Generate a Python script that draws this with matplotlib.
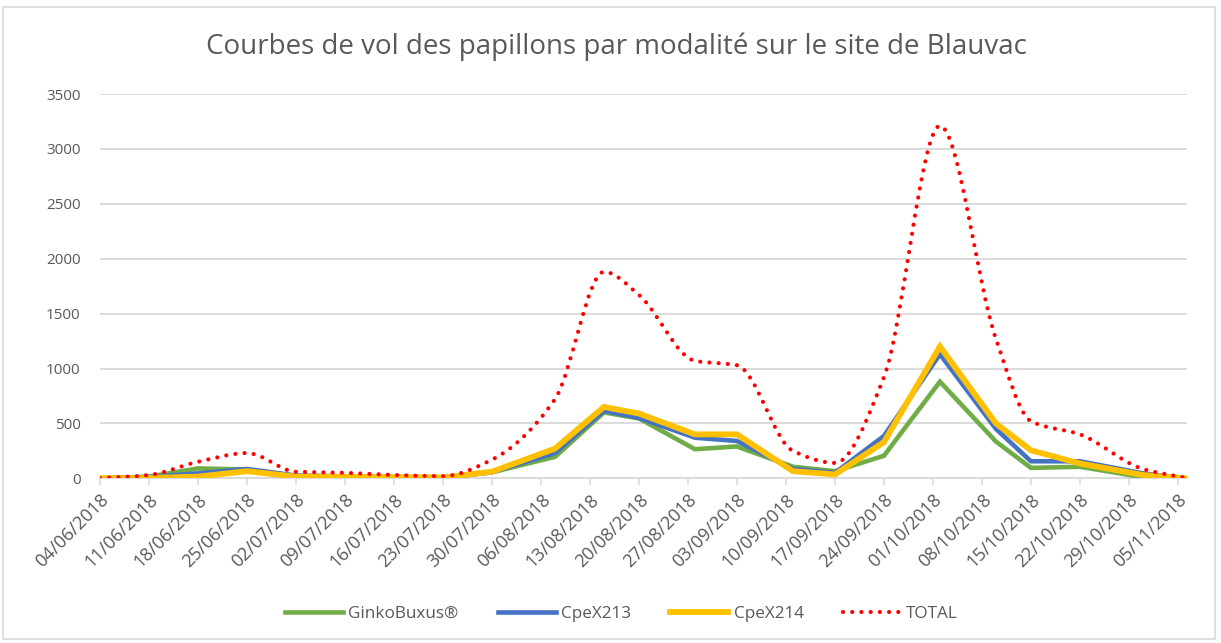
import numpy as np
import pandas as pd
import matplotlib
matplotlib.use("Agg")
import matplotlib.pyplot as plt
from matplotlib.path import Path
from matplotlib.patches import PathPatch, Rectangle
from matplotlib.lines import Line2D

# sampling dates and counts per modality
dates = ["2018-06-04", "2018-06-11", "2018-06-18", "2018-06-25", "2018-07-02",
         "2018-07-09", "2018-07-16", "2018-07-23", "2018-07-30", "2018-08-08",
         "2018-08-15", "2018-08-20", "2018-08-28", "2018-09-03", "2018-09-11",
         "2018-09-17", "2018-09-24", "2018-10-02", "2018-10-10", "2018-10-15",
         "2018-10-22", "2018-10-31", "2018-11-06"]
ginko = [0, 15, 90, 80, 20, 18, 10, 5, 55, 195, 600, 545, 265, 290, 105,
         65, 205, 880, 335, 95, 105, 10, 0]
cpex213 = [0, 12, 45, 85, 25, 18, 10, 8, 55, 230, 615, 550, 370, 340, 85,
           50, 385, 1130, 450, 155, 155, 45, 0]
cpex214 = [0, 3, 15, 65, 15, 14, 10, 7, 60, 270, 650, 590, 400, 400, 65,
           35, 330, 1200, 500, 255, 135, 30, 0]
total = [0, 30, 150, 230, 60, 50, 30, 20, 170, 720, 1880, 1670, 1070, 1030,
         250, 140, 920, 3210, 1270, 520, 400, 85, 5]

tick_start, tick_end = "2018-06-04", "2018-11-05"
y_ticks = [0, 500, 1000, 1500, 2000, 2500, 3000, 3500]
title = "Courbes de vol des papillons par modalité sur le site de Blauvac"

t0 = pd.Timestamp(tick_start)
x = np.array([(pd.Timestamp(d) - t0).days for d in dates], dtype=float)
tick_dates = pd.date_range(tick_start, tick_end, freq="7D")
tick_x = [(d - t0).days for d in tick_dates]
tick_lab = [d.strftime("%d/%m/%Y") for d in tick_dates]

plt.rcParams["font.family"] = ["Open Sans", "DejaVu Sans"]
grey = "#595959"

fig = plt.figure(figsize=(12.21, 6.43), dpi=100)
fig.patches.append(Rectangle((3 / 1221, 4 / 643), 1212 / 1221, 632 / 643,
                             transform=fig.transFigure, fill=False,
                             edgecolor="#d9d9d9", lw=1.2))
ax = fig.add_axes([100 / 1221, 1 - 478.3 / 643, 1087 / 1221, 384.3 / 643])

ax.plot(x, ginko, color="#70AD47", lw=3.3, solid_joinstyle="miter", zorder=3)
ax.plot(x, cpex213, color="#4472C4", lw=3.3, solid_joinstyle="miter", zorder=4)
ax.plot(x, cpex214, color="#FFC000", lw=4.2, solid_joinstyle="miter", zorder=5)


def smooth_path(xs, ys):
    # smoothed line through every point: cubic Bezier segments with
    # monotone (Fritsch-Carlson) tangents, so no dips between flat points
    n = len(xs)
    h = np.diff(xs)
    d = np.diff(ys) / h
    m = np.zeros(n)
    m[0], m[-1] = d[0], d[-1]
    for k in range(1, n - 1):
        if d[k - 1] * d[k] > 0:
            w1 = 2 * h[k] + h[k - 1]
            w2 = h[k] + 2 * h[k - 1]
            m[k] = (w1 + w2) / (w1 / d[k - 1] + w2 / d[k])
    verts, codes = [(xs[0], ys[0])], [Path.MOVETO]
    for i in range(n - 1):
        s = h[i] / 3
        verts += [(xs[i] + s, ys[i] + s * m[i]),
                  (xs[i + 1] - s, ys[i + 1] - s * m[i + 1]),
                  (xs[i + 1], ys[i + 1])]
        codes += [Path.CURVE4] * 3
    return Path(verts, codes)


ax.add_patch(PathPatch(smooth_path(x, np.array(total, float)), fill=False,
                       edgecolor="#FF0000", lw=3.0, linestyle=(0, (0.01, 2.2)),
                       capstyle="round", zorder=6))

ax.set_xlim(0, 155.3)
ax.set_ylim(0, 3500)
ax.set_yticks(y_ticks)
ax.set_yticklabels([str(v) for v in y_ticks], color=grey, fontsize=11)
ax.set_xticks(tick_x)
ax.set_xticklabels(tick_lab, rotation=45, ha="right", va="top",
                   rotation_mode="anchor", color=grey, fontsize=13)
ax.tick_params(axis="y", length=0, pad=14)
ax.tick_params(axis="x", length=5, width=1.2, color="#d9d9d9", pad=4)
ax.grid(axis="y", color="#d9d9d9", lw=1.3)
ax.set_axisbelow(True)
for s in ["top", "right", "left"]:
    ax.spines[s].set_visible(False)
ax.spines["bottom"].set_color("#d9d9d9")
ax.spines["bottom"].set_linewidth(1.3)

fig.text(0.505, 1 - 47 / 643, title, ha="center", va="center",
         fontsize=20, color=grey)

handles = [Line2D([], [], color="#70AD47", lw=3.3),
           Line2D([], [], color="#4472C4", lw=3.3),
           Line2D([], [], color="#FFC000", lw=4.2),
           Line2D([], [], color="#FF0000", lw=3.0, linestyle=(0, (0.01, 2.2)),
                  dash_capstyle="round")]
fig.legend(handles, ["GinkoBuxus®", "CpeX213", "CpeX214", "TOTAL"], ncol=4,
           loc="center", bbox_to_anchor=(0.509, 1 - 614 / 643), frameon=False,
           fontsize=12.3, handlelength=3.4, handletextpad=0.3, columnspacing=2.3,
           labelcolor=grey)

fig.savefig("out.png", dpi=100)
